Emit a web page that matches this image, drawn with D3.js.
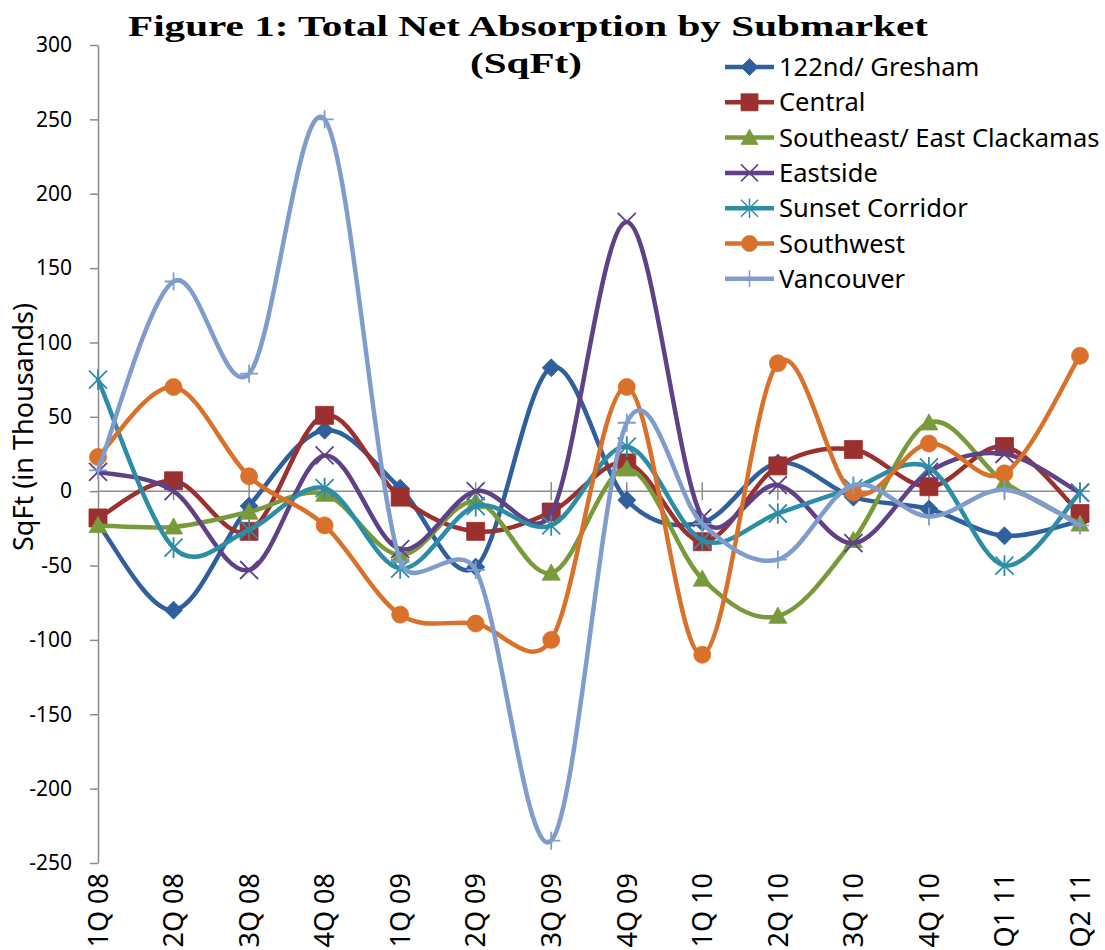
<!DOCTYPE html>
<html>
<head>
<meta charset="utf-8">
<script src="https://cdn.jsdelivr.net/npm/d3@7"></script>
<style>
  body { margin: 0; background: #fff; }
  svg { display: block; }
</style>
</head>
<body>
<div id="chart"></div>
<script>
// quarters on the x axis
var categories = ["1Q 08", "2Q 08", "3Q 08", "4Q 08", "1Q 09", "2Q 09", "3Q 09",
  "4Q 09", "1Q 10", "2Q 10", "3Q 10", "4Q 10", "Q1 11", "Q2 11"];

// net absorption per submarket, thousands of sq ft
var gresham   = [-22, -80, -10, 41, 2, -51, 83, -6, -21, 19, -4, -12, -30, -20];
var central   = [-18, 7, -27, 51, -4, -27, -14, 19, -34, 17, 28, 3, 30, -15];
var southeast = [-23, -24, -14, -2, -43, -7, -55, 15, -59, -84, -33, 46, 6, -22];
var eastside  = [13, 0, -53, 24, -39, 0, -15, 181, -18, 4, -35, 13, 25, -1];
var sunset    = [75, -38, -26, 2, -52, -10, -23, 30, -33, -15, 2, 16, -50, -1];
var southwest = [23, 70, 10, -23, -83, -89, -100, 70, -110, 86, -1, 32, 12, 91];
var vancouver = [14, 141, 79, 250, -47, -53, -235, 46, -22, -46, 4, -17, 1, -23];

var yTicks = [300, 250, 200, 150, 100, 50, 0, -50, -100, -150, -200, -250];

var series = [
  {name: "122nd/ Gresham", values: gresham, color: "#2f5f9c", marker: "diamond"},
  {name: "Central", values: central, color: "#9b302e", marker: "square"},
  {name: "Southeast/ East Clackamas", values: southeast, color: "#789a3a", marker: "triangle"},
  {name: "Eastside", values: eastside, color: "#5f4187", marker: "x"},
  {name: "Sunset Corridor", values: sunset, color: "#2e8da6", marker: "star"},
  {name: "Southwest", values: southwest, color: "#da712a", marker: "circle"},
  {name: "Vancouver", values: vancouver, color: "#7f9ccc", marker: "plus"}
];

var W = 1105, H = 950;
var margin = {top: 45, right: 25, bottom: 87, left: 98};
var sans = "'Noto Sans', 'Open Sans', sans-serif";

var svg = d3.select("#chart").append("svg")
  .attr("width", W)
  .attr("height", H);

var x = d3.scalePoint()
  .domain(categories)
  .range([margin.left, W - margin.right]);

var y = d3.scaleLinear()
  .domain([-250, 300])
  .range([H - margin.bottom, margin.top]);

// marker shapes, s = half size
function markerPath(type, s) {
  switch (type) {
    case "diamond": return "M0," + (-s) + "L" + s + ",0L0," + s + "L" + (-s) + ",0Z";
    case "square": return "M" + (-s) + "," + (-s) + "H" + s + "V" + s + "H" + (-s) + "Z";
    case "triangle": return "M0," + (-s) + "L" + s + "," + (s * 0.8) + "L" + (-s) + "," + (s * 0.8) + "Z";
    case "circle": return d3.arc()({innerRadius: 0, outerRadius: s, startAngle: 0, endAngle: 2 * Math.PI});
    case "x": return "M" + (-s) + "," + (-s) + "L" + s + "," + s + "M" + (-s) + "," + s + "L" + s + "," + (-s);
    case "star": return "M" + (-s) + "," + (-s) + "L" + s + "," + s + "M" + (-s) + "," + s + "L" + s + "," + (-s) +
      "M0," + (-s * 1.15) + "V" + (s * 1.15);
    case "plus": return "M0," + (-s) + "V" + s + "M" + (-s) + ",0H" + s;
  }
}
function isOpen(type) { return type === "x" || type === "star" || type === "plus"; }

// excel style smoothed line: 1/6 bezier arms, capped at half the segment
function smoothPath(values) {
  var p = values.map(function(d, i) { return [x(categories[i]), y(d)]; });
  var path = d3.path();
  function dist(a, b) { return Math.hypot(b[0] - a[0], b[1] - a[1]); }
  path.moveTo(p[0][0], p[0][1]);
  for (var i = 0; i < p.length - 1; i++) {
    var p0 = p[i > 0 ? i - 1 : i], p1 = p[i], p2 = p[i + 1], p3 = p[i + 2 < p.length ? i + 2 : i + 1];
    var d12 = dist(p1, p2), d02 = dist(p0, p2), d13 = dist(p1, p3);
    var f1 = d02 / 6 < d12 / 2 ? 1 / 6 : d12 / (2 * d02);
    var f2 = d13 / 6 < d12 / 2 ? 1 / 6 : d12 / (2 * d13);
    path.bezierCurveTo(
      p1[0] + f1 * (p2[0] - p0[0]), p1[1] + f1 * (p2[1] - p0[1]),
      p2[0] - f2 * (p3[0] - p1[0]), p2[1] - f2 * (p3[1] - p1[1]),
      p2[0], p2[1]);
  }
  return path.toString();
}

// y axis (plain hyphen for negatives, like the original)
var yAxis = svg.append("g")
  .attr("transform", "translate(" + margin.left + ",0)")
  .call(d3.axisLeft(y).tickValues(yTicks).tickFormat(function(d) { return String(d); })
    .tickSize(8).tickPadding(18).tickSizeOuter(0));
yAxis.select(".domain").attr("stroke", "#8c8c8c").attr("stroke-width", 1.5);
yAxis.selectAll(".tick line").attr("stroke", "#8c8c8c").attr("stroke-width", 1.5);
yAxis.selectAll(".tick text")
  .style("font-family", sans)
  .style("font-size", "21px")
  .attr("fill", "#000");

// horizontal axis at zero, ticks cross the line
var zero = svg.append("g").attr("transform", "translate(0," + y(0) + ")");
zero.append("line")
  .attr("x1", margin.left).attr("x2", x(categories[categories.length - 1]) + 10)
  .attr("stroke", "#8c8c8c").attr("stroke-width", 1.5);
zero.selectAll(".xt")
  .data(categories.slice(1))
  .enter().append("line")
  .attr("x1", function(d) { return x(d); })
  .attr("x2", function(d) { return x(d); })
  .attr("y1", -9).attr("y2", 9)
  .attr("stroke", "#8c8c8c").attr("stroke-width", 1.5);

// category labels at the bottom, rotated
svg.append("g").selectAll("text")
  .data(categories)
  .enter().append("text")
  .attr("transform", function(d) { return "translate(" + x(d) + "," + (H - margin.bottom + 10) + ") rotate(-90)"; })
  .attr("dy", "0.36em")
  .attr("text-anchor", "end")
  .style("font-family", sans)
  .style("font-size", "27px")
  .text(function(d) { return d; });

// y title
svg.append("text")
  .attr("transform", "translate(33,427) rotate(-90)")
  .attr("text-anchor", "middle")
  .style("font-family", sans)
  .style("font-size", "27px")
  .text("SqFt (in Thousands)");

// series
series.forEach(function(s) {
  var g = svg.append("g").attr("class", "serie");
  g.append("path")
    .attr("d", smoothPath(s.values))
    .attr("fill", "none")
    .attr("stroke", s.color)
    .attr("stroke-width", 4.5)
    .attr("stroke-linejoin", "round")
    .attr("stroke-linecap", "round");
  g.selectAll(".mk")
    .data(s.values)
    .enter().append("path")
    .attr("transform", function(d, i) { return "translate(" + x(categories[i]) + "," + y(d) + ")"; })
    .attr("d", markerPath(s.marker, s.marker === "circle" ? 8.5 : 9))
    .attr("fill", isOpen(s.marker) ? "none" : s.color)
    .attr("stroke", s.color)
    .attr("stroke-width", isOpen(s.marker) ? 1.8 : 0.8);
});

// title
var title = svg.append("g")
  .style("font-family", "'Liberation Serif', 'DejaVu Serif', serif")
  .style("font-weight", "bold");
title.append("text")
  .attr("x", 128).attr("y", 36)
  .attr("textLength", 800)
  .attr("lengthAdjust", "spacingAndGlyphs")
  .style("font-size", "30px")
  .text("Figure 1: Total Net Absorption by Submarket");
title.append("text")
  .attr("x", 470).attr("y", 73)
  .attr("textLength", 112)
  .attr("lengthAdjust", "spacingAndGlyphs")
  .style("font-size", "30px")
  .text("(SqFt)");

// legend
var legend = svg.append("g").attr("transform", "translate(725,67)");
var item = legend.selectAll("g")
  .data(series)
  .enter().append("g")
  .attr("transform", function(d, i) { return "translate(0," + (i * 35.3) + ")"; });
item.append("line")
  .attr("x1", 0).attr("x2", 49)
  .attr("stroke", function(d) { return d.color; })
  .attr("stroke-width", 4.5);
item.append("path")
  .attr("transform", "translate(24.5,0)")
  .attr("d", function(d) { return markerPath(d.marker, d.marker === "circle" ? 8 : 8.5); })
  .attr("fill", function(d) { return isOpen(d.marker) ? "none" : d.color; })
  .attr("stroke", function(d) { return d.color; })
  .attr("stroke-width", function(d) { return isOpen(d.marker) ? 1.5 : 0.8; });
item.append("text")
  .attr("x", 54)
  .attr("dy", "0.36em")
  .style("font-family", sans)
  .style("font-size", "25.5px")
  .text(function(d) { return d.name; });
</script>
</body>
</html>
